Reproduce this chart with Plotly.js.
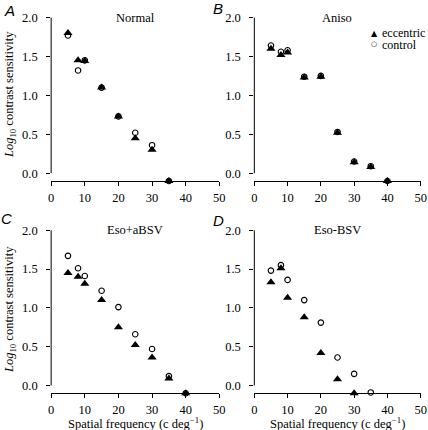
<!DOCTYPE html>
<html><head><meta charset="utf-8">
<script src="https://cdn.plot.ly/plotly-3.0.1.min.js"></script>
<style>html,body{margin:0;padding:0;background:#fff}#plot{width:428px;height:430px}</style>
</head><body><div id="plot"></div>
<script>
// Spatial frequencies (c/deg)
const freqA = [5, 8, 10, 15, 20, 25, 30, 35];
const eccA  = [1.80, 1.45, 1.44, 1.10, 0.73, 0.45, 0.30, -0.10];
const ctlA  = [1.77, 1.32, 1.45, 1.10, 0.73, 0.52, 0.36, -0.10];

const freqB = [5, 8, 10, 15, 20, 25, 30, 35, 40];
const eccB  = [1.60, 1.52, 1.55, 1.23, 1.24, 0.52, 0.14, 0.08, -0.10];
const ctlB  = [1.64, 1.56, 1.58, 1.24, 1.25, 0.53, 0.15, 0.09, -0.10];

const freqC = [5, 8, 10, 15, 20, 25, 30, 35, 40];
const eccC  = [1.45, 1.40, 1.31, 1.10, 0.75, 0.52, 0.36, 0.09, -0.10];
const ctlC  = [1.67, 1.51, 1.41, 1.22, 1.01, 0.66, 0.47, 0.12, -0.10];

const freqDecc = [5, 8, 10, 15, 20, 25, 30];
const eccD     = [1.33, 1.51, 1.13, 0.88, 0.42, 0.08, -0.10];
const freqDctl = [5, 8, 10, 15, 20, 25, 30, 35];
const ctlD     = [1.48, 1.55, 1.36, 1.10, 0.81, 0.36, 0.15, -0.09];

const panelTitles = ["Normal", "Aniso", "Eso+aBSV", "Eso-BSV"];
const panelLetters = ["A", "B", "C", "D"];
const legendLabels = ["eccentric", "control"];
const xTicks = [0, 10, 20, 30, 40, 50];
const yTicks = [0, 0.5, 1.0, 1.5, 2.0];

const serif = "'Liberation Serif'";
const axesNames = [["x", "y"], ["x2", "y2"], ["x3", "y3"], ["x4", "y4"]];
const series = [
  [freqA, eccA, freqA, ctlA],
  [freqB, eccB, freqB, ctlB],
  [freqC, eccC, freqC, ctlC],
  [freqDecc, eccD, freqDctl, ctlD]
];

const data = [];
series.forEach((s, i) => {
  const [xa, ya] = axesNames[i];
  data.push({x: s[2], y: s[3], xaxis: xa, yaxis: ya, type: "scatter", mode: "markers",
    cliponaxis: false, showlegend: false,
    marker: {symbol: "circle-open", size: 5.5, color: "#000", line: {width: 1.1, color: "#000"}}});
  data.push({x: s[0], y: s[1], xaxis: xa, yaxis: ya, type: "scatter", mode: "markers",
    cliponaxis: false, showlegend: false,
    marker: {symbol: "triangle-up", size: 8, color: "#000"}});
});

const xDomL = [0.1195, 0.5125], xDomR = [0.5942, 0.9829];
const yDomT = [0.5791, 0.9598], yDomB = [0.0855, 0.4651];
const doms = [[xDomL, yDomT], [xDomR, yDomT], [xDomL, yDomB], [xDomR, yDomB]];

function xax(dom, anchor) {
  return {domain: dom, anchor: anchor, range: [0, 50], tickvals: xTicks,
    showline: true, linecolor: "#000", linewidth: 1, ticks: "outside", ticklen: 4,
    tickcolor: "#000", showgrid: false, zeroline: false, ticklabelstandoff: 1,
    tickfont: {family: serif, size: 12.5, color: "#000"}};
}
function yax(dom, anchor) {
  return {domain: dom, anchor: anchor, range: [-0.1, 2.003], tickvals: yTicks,
    tickformat: ".1f", showline: false, ticks: "outside", ticklen: 4, tickcolor: "#000",
    showgrid: false, zeroline: false, ticklabelstandoff: 6,
    tickfont: {family: serif, size: 12.5, color: "#000"}};
}

const layout = {
  width: 428, height: 430, margin: {l: 0, r: 0, t: 0, b: 0},
  paper_bgcolor: "#fff", plot_bgcolor: "#fff", showlegend: false,
  font: {family: serif},
  annotations: [], shapes: []
};
doms.forEach((d, i) => {
  const sfx = i === 0 ? "" : String(i + 1);
  layout["xaxis" + sfx] = xax(d[0], "y" + sfx);
  layout["yaxis" + sfx] = yax(d[1], "x" + sfx);
  // y spine only from 0 to 2
  layout.shapes.push({type: "line", xref: "x" + sfx + " domain", yref: "y" + sfx,
    x0: 0, x1: 0, y0: 0, y1: 2, line: {color: "#000", width: 1}});
  // panel title
  layout.annotations.push({text: panelTitles[i], xref: "x" + sfx + " domain", yref: "paper",
    x: 0.5, y: 1 - (i < 2 ? 18 : 230) / 430, showarrow: false, xanchor: "center", yanchor: "middle",
    font: {family: serif, size: 12.5, color: "#000"}});
});

// panel letters
const letterPos = [[9, 11], [218, 9], [7, 218], [218, 220]];
panelLetters.forEach((L, i) => {
  layout.annotations.push({text: "<i>" + L + "</i>", xref: "paper", yref: "paper",
    x: letterPos[i][0] / 428, y: 1 - letterPos[i][1] / 430, showarrow: false,
    xanchor: "center", yanchor: "middle",
    font: {family: "'Liberation Sans'", size: 15, color: "#000"}});
});

// y-axis titles
[[95], [310]].forEach(p => {
  layout.annotations.push({text: "<i>Log</i><sub>10</sub> contrast sensitivity",
    xref: "paper", yref: "paper", x: 10 / 428, y: 1 - p[0] / 430, textangle: -90,
    showarrow: false, xanchor: "center", yanchor: "middle",
    font: {family: serif, size: 12.5, color: "#000"}});
});
// x-axis titles
["x3", "x4"].forEach(xa => {
  layout.annotations.push({text: "Spatial frequency (c deg<sup>\u22121</sup>)",
    xref: xa + " domain", yref: "paper", x: 0.5, y: 1 - 423 / 430, showarrow: false,
    xanchor: "center", yanchor: "middle",
    font: {family: serif, size: 12.5, color: "#000"}});
});
// legend in panel B
layout.annotations.push({text: "\u25B2", xref: "paper", yref: "paper", x: 374 / 428, y: 1 - 33 / 430,
  showarrow: false, xanchor: "center", yanchor: "middle", font: {family: "'DejaVu Sans'", size: 8, color: "#000"}});
layout.annotations.push({text: legendLabels[0], xref: "paper", yref: "paper", x: 380 / 428, y: 1 - 32.5 / 430,
  showarrow: false, xanchor: "left", yanchor: "middle", font: {family: serif, size: 12, color: "#000"}});
layout.annotations.push({text: "\u25CB", xref: "paper", yref: "paper", x: 374 / 428, y: 1 - 44 / 430,
  showarrow: false, xanchor: "center", yanchor: "middle", font: {family: "'DejaVu Sans'", size: 7, color: "#000"}});
layout.annotations.push({text: legendLabels[1], xref: "paper", yref: "paper", x: 380 / 428, y: 1 - 44.5 / 430,
  showarrow: false, xanchor: "left", yanchor: "middle", font: {family: serif, size: 12, color: "#000"}});

Plotly.newPlot("plot", data, layout, {staticPlot: true, displayModeBar: false});
</script></body></html>
